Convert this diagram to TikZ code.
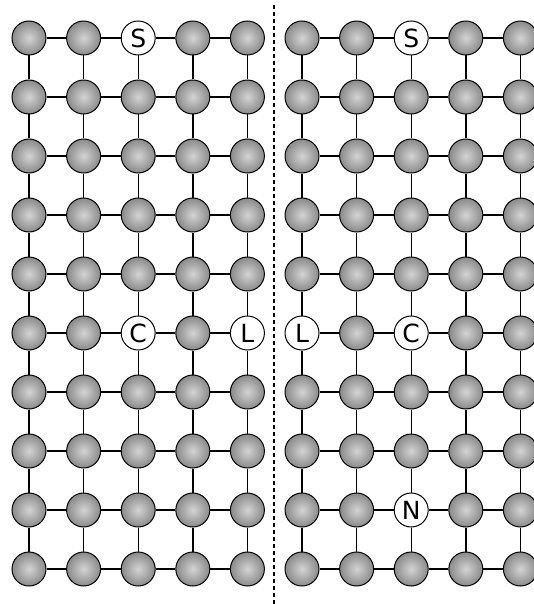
\documentclass[tikz,border=0pt]{standalone}
\usepackage{fontspec}
\setsansfont{DejaVu Sans}
\usetikzlibrary{positioning}

% labelled sites, one macro per grid/column/row
\expandafter\def\csname tag@l@3@1\endcsname{S}
\expandafter\def\csname tag@l@3@6\endcsname{C}
\expandafter\def\csname tag@l@5@6\endcsname{L}
\expandafter\def\csname tag@r@3@1\endcsname{S}
\expandafter\def\csname tag@r@1@6\endcsname{L}
\expandafter\def\csname tag@r@3@6\endcsname{C}
\expandafter\def\csname tag@r@3@9\endcsname{N}

\tikzset{
  site/.style={circle,draw=black,line width=1pt,minimum size=34pt,inner sep=0pt,
    shading=radial,inner color=black!17,outer color=black!46},
  tagged/.style={circle,draw=black,line width=1pt,minimum size=34pt,inner sep=0pt,
    fill=white,font=\sffamily\fontsize{25}{25}\selectfont},
  bond/.style={line width=1.4pt},
  divider/.style={line width=1.4pt,dash pattern=on 4pt off 3pt}
}

\begin{document}
\begin{tikzpicture}[x=1pt,y=-1pt]
\useasboundingbox (0,0) rectangle (534,604);
\clip (0,0) rectangle (534,604);
% divider between the two lattices
\coordinate (top) at (274,5);
\coordinate (bot) at (274,604);
\draw[divider] (top) -- (bot);
% two 5x10 lattices
\foreach \g/\xo in {l/29,r/302} {
  \foreach \i in {1,...,5} \foreach \j in {1,...,10} {
    \ifcsname tag@\g @\i @\j\endcsname
      \node[tagged] (\g-\i-\j) at ({\xo+(\i-1)*54.6},{38+(\j-1)*59.0}) {\csname tag@\g @\i @\j\endcsname};
    \else
      \node[site] (\g-\i-\j) at ({\xo+(\i-1)*54.6},{38+(\j-1)*59.0}) {};
    \fi
  }
  % bonds
  \foreach \i in {1,...,4} \foreach \j in {1,...,10} {
    \pgfmathtruncatemacro{\k}{\i+1}
    \draw[bond] (\g-\i-\j) -- (\g-\k-\j);
  }
  \foreach \i in {1,...,5} \foreach \j in {1,...,9} {
    \pgfmathtruncatemacro{\k}{\j+1}
    \draw[bond] (\g-\i-\j) -- (\g-\i-\k);
  }
}
\end{tikzpicture}
\end{document}
